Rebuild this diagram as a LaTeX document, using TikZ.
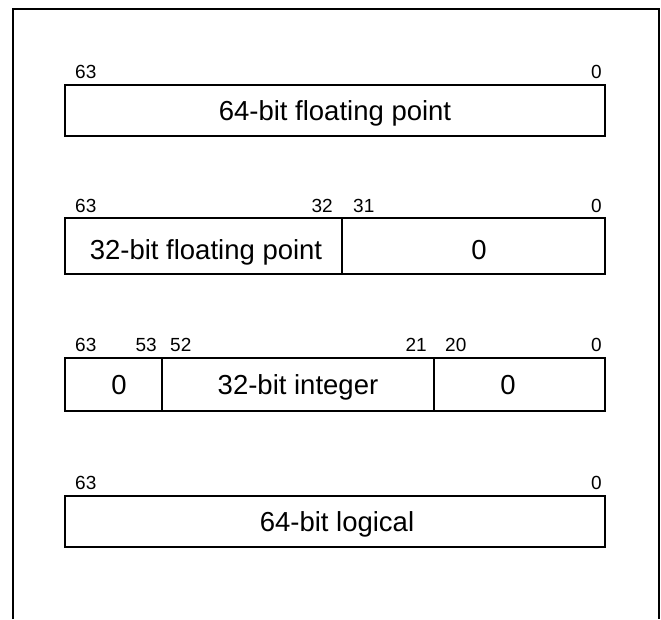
\documentclass[tikz,border=0pt]{standalone}
\usepackage{fontspec}
\setmainfont{Liberation Sans}
\begin{document}
\begin{tikzpicture}[x=1pt,y=-1pt,
  frameline/.style={line width=2.6pt},
  cell/.style={draw,line width=2.6pt,inner sep=0pt},
  maintext/.style={font=\fontsize{27.5}{30}\selectfont,anchor=base,inner sep=0pt},
  bitlab/.style={font=\fontsize{19}{21}\selectfont,inner sep=0pt}]
\useasboundingbox (0,0) rectangle (661,619);
% outer frame
\coordinate (fbl) at (13,619);
\coordinate (ftl) at (13,9);
\coordinate (ftr) at (659,9);
\coordinate (fbr) at (659,619);
\draw[frameline] (fbl) -- (ftl) -- (ftr) -- (fbr);
% box 1
\draw[cell] (65,85) rectangle (605,136);
\node[maintext] (t1) at (335,120) {64-bit floating point};
\node[bitlab,anchor=base west] (l1a) at (75,78) {63};
\node[bitlab,anchor=base east] (l1b) at (602,78) {0};
% box 2
\draw[cell] (65,218) rectangle (605,274);
\draw[line width=2.6pt] (342,218) -- (342,274);
\node[maintext] (t2a) at (206,259) {32-bit floating point};
\node[maintext] (t2b) at (479,259) {0};
\node[bitlab,anchor=base west] (l2a) at (75,212) {63};
\node[bitlab,anchor=base east] (l2b) at (333,212) {32};
\node[bitlab,anchor=base west] (l2c) at (353,212) {31};
\node[bitlab,anchor=base east] (l2d) at (602,212) {0};
% box 3
\draw[cell] (65,358) rectangle (605,411);
\draw[line width=2.6pt] (162,358) -- (162,411);
\draw[line width=2.6pt] (434,358) -- (434,411);
\node[maintext] (t3a) at (119,394) {0};
\node[maintext] (t3b) at (298,394) {32-bit integer};
\node[maintext] (t3c) at (508,394) {0};
\node[bitlab,anchor=base west] (l3a) at (75,351) {63};
\node[bitlab,anchor=base east] (l3b) at (157,351) {53};
\node[bitlab,anchor=base west] (l3c) at (170,351) {52};
\node[bitlab,anchor=base east] (l3d) at (427,351) {21};
\node[bitlab,anchor=base west] (l3e) at (445,351) {20};
\node[bitlab,anchor=base east] (l3f) at (602,351) {0};
% box 4
\draw[cell] (65,496) rectangle (605,547);
\node[maintext] (t4) at (337,531) {64-bit logical};
\node[bitlab,anchor=base west] (l4a) at (75,489) {63};
\node[bitlab,anchor=base east] (l4b) at (602,489) {0};
\end{tikzpicture}
\end{document}
